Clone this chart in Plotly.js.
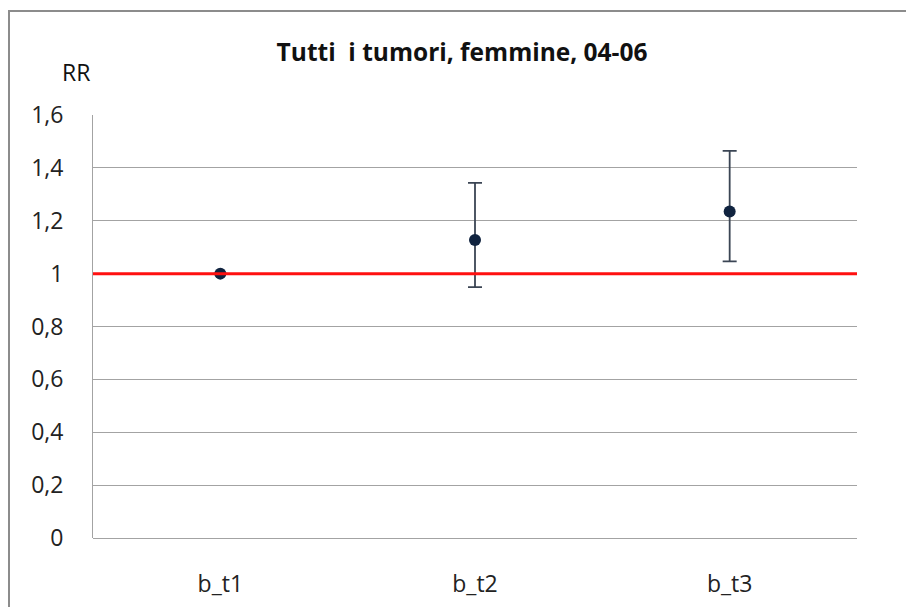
<!DOCTYPE html>
<html>
<head>
<meta charset="utf-8">
<script src="https://cdn.plot.ly/plotly-3.0.1.min.js"></script>
<style>
  html, body { margin: 0; padding: 0; background: #fff; overflow: hidden; }
  #wrap { position: relative; width: 906px; height: 607px; overflow: hidden; background: #fff; }
  #chart { position: absolute; left: 0; top: 0; width: 906px; height: 607px; }
  .fline { position: absolute; background: #8c8c8c; pointer-events: none; z-index: 5; }
  #ftop { left: 8px; top: 10px; width: 898px; height: 2px; }
  #fleft { left: 8px; top: 10px; width: 2px; height: 597px; }
  #rcover { position: absolute; left: 880px; top: 12px; width: 26px; height: 595px; background: #fff; z-index: 4; pointer-events: none; }
</style>
</head>
<body>
<div id="wrap">
  <div id="chart"></div>
  <div id="rcover"></div>
  <div id="ftop" class="fline"></div>
  <div id="fleft" class="fline"></div>
</div>
<script>
// ---- data ----
const categories = ["b_t1", "b_t2", "b_t3"];
const rr = [1.0, 1.127, 1.235];
const rrLower = [1.0, 0.949, 1.046];
const rrUpper = [1.0, 1.343, 1.464];
const referenceValue = 1;
const yTickVals = [0, 0.2, 0.4, 0.6, 0.8, 1, 1.2, 1.4, 1.6];

const errPlus = rr.map((v, i) => rrUpper[i] - v);
const errMinus = rr.map((v, i) => v - rrLower[i]);

const FONT = '"Open Sans", "Noto Sans", sans-serif';

const trace = {
  type: 'scatter',
  mode: 'markers',
  x: categories,
  y: rr,
  marker: { color: '#10233f', size: 12 },
  error_y: {
    type: 'data',
    symmetric: false,
    array: errPlus,
    arrayminus: errMinus,
    color: '#3b4554',
    thickness: 1.8,
    width: 7
  },
  hoverinfo: 'x+y',
  showlegend: false
};

const layout = {
  width: 906,
  height: 607,
  margin: { l: 93, r: 49, t: 115, b: 69, pad: 0 },
  paper_bgcolor: '#ffffff',
  plot_bgcolor: '#ffffff',
  separators: ', ',
  showlegend: false,
  font: { family: FONT, size: 22, color: '#222' },
  title: {
    text: 'Tutti&nbsp;&nbsp;i tumori, femmine, 04-06',
    font: { family: FONT, size: 24.5, color: '#111', weight: 'bold' },
    xref: 'container', yref: 'container',
    x: 0.51, xanchor: 'center',
    y: 0.914, yanchor: 'middle'
  },
  xaxis: {
    type: 'category',
    range: [-0.5, 2.5],
    showgrid: false,
    zeroline: false,
    showline: false,
    ticks: '',
    ticklabelstandoff: 30,
    tickfont: { family: FONT, size: 23, color: '#222' },
    fixedrange: true
  },
  yaxis: {
    range: [0, 1.6],
    tickvals: yTickVals,
    showgrid: true,
    gridcolor: '#a3a3a3',
    gridwidth: 1,
    zeroline: true,
    zerolinecolor: '#a3a3a3',
    zerolinewidth: 1,
    showline: true,
    linecolor: '#a3a3a3',
    linewidth: 1,
    ticks: '',
    ticklabelstandoff: 24,
    tickfont: { family: FONT, size: 23, color: '#222' },
    fixedrange: true
  },
  shapes: [
    {
      type: 'line', xref: 'paper', yref: 'y',
      x0: 0, x1: 1, y0: referenceValue, y1: referenceValue,
      line: { color: '#ff1010', width: 3 },
      layer: 'above'
    }
  ],
  annotations: [
    {
      text: 'RR', xref: 'paper', yref: 'paper',
      x: -0.022, y: 1.102, xanchor: 'center', yanchor: 'middle',
      showarrow: false,
      font: { family: FONT, size: 23, color: '#111' }
    }
  ]
};

Plotly.newPlot('chart', [trace], layout, { displayModeBar: false, staticPlot: true });
</script>
</body>
</html>
